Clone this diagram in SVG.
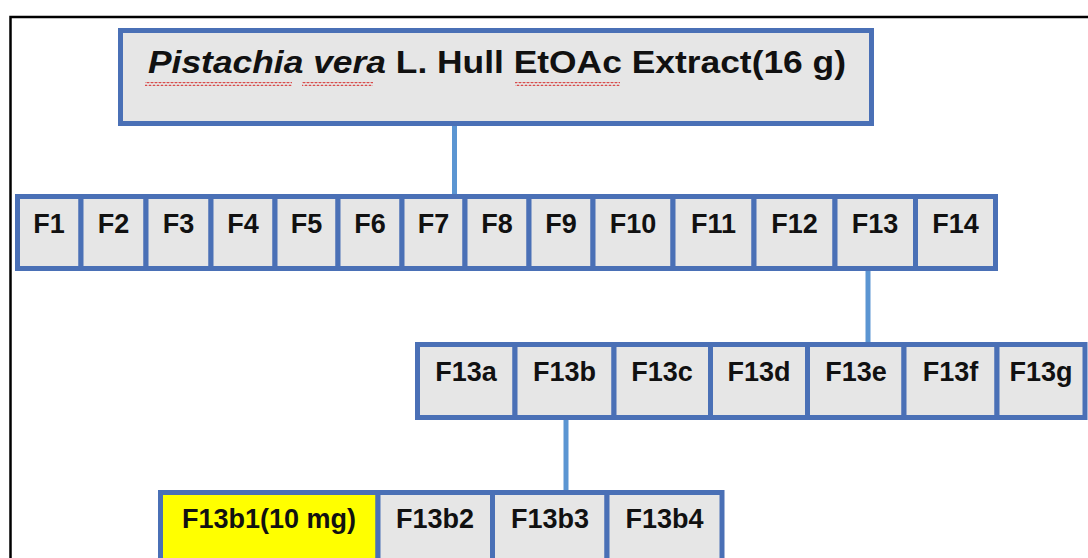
<svg xmlns="http://www.w3.org/2000/svg" width="1088" height="558" viewBox="0 0 1088 558">
<defs>
<style>
.box{fill:#e6e6e6;stroke:#4a70b6;stroke-width:5}
.hl{fill:#ffff00;stroke:#4a70b6;stroke-width:5}
.lbl{font-family:"Liberation Sans",Arial,sans-serif;font-weight:bold;font-size:27px;fill:#111;text-anchor:middle}
.title{font-family:"Liberation Sans",Arial,sans-serif;font-weight:bold;font-size:32px;fill:#111}
.con{stroke:#5b95d2;stroke-width:5;fill:none}
</style>
<pattern id="sq" width="4" height="4" patternUnits="userSpaceOnUse"><path d="M0,3 L2,1 L4,3" stroke="#d84848" stroke-width="1.2" fill="none"/></pattern>
</defs>
<rect width="1088" height="558" fill="#ffffff"/>
<path d="M10.5,570 V17 H1100" fill="none" stroke="#000" stroke-width="2.5"/>

<g id="connectors">
<line class="con" x1="454.5" y1="126" x2="454.5" y2="194"/>
<line class="con" x1="868" y1="271" x2="868" y2="342"/>
<line class="con" x1="566" y1="420" x2="566" y2="490"/>
</g>

<g id="root">
<rect class="box" x="120.5" y="30.5" width="751" height="93"/>
<text class="title" x="148" y="73" textLength="698" lengthAdjust="spacingAndGlyphs"><tspan font-style="italic">Pistachia vera</tspan> L. Hull EtOAc Extract(16 g)</text>
<rect x="145" y="82" width="147" height="4" fill="url(#sq)"/>
<rect x="302" y="82" width="71" height="4" fill="url(#sq)"/>
<rect x="515" y="82" width="105" height="4" fill="url(#sq)"/>
</g>

<g id="F1"><rect class="box" x="17.5" y="196.5" width="63.5" height="72"/><text class="lbl" x="49" y="233">F1</text></g>
<g id="F2"><rect class="box" x="81" y="196.5" width="65" height="72"/><text class="lbl" x="113.5" y="233">F2</text></g>
<g id="F3"><rect class="box" x="146" y="196.5" width="65" height="72"/><text class="lbl" x="178.5" y="233">F3</text></g>
<g id="F4"><rect class="box" x="211" y="196.5" width="64" height="72"/><text class="lbl" x="243" y="233">F4</text></g>
<g id="F5"><rect class="box" x="275" y="196.5" width="63" height="72"/><text class="lbl" x="306.5" y="233">F5</text></g>
<g id="F6"><rect class="box" x="338" y="196.5" width="64" height="72"/><text class="lbl" x="370" y="233">F6</text></g>
<g id="F7"><rect class="box" x="402" y="196.5" width="63" height="72"/><text class="lbl" x="433.5" y="233">F7</text></g>
<g id="F8"><rect class="box" x="465" y="196.5" width="64" height="72"/><text class="lbl" x="497" y="233">F8</text></g>
<g id="F9"><rect class="box" x="529" y="196.5" width="64" height="72"/><text class="lbl" x="561" y="233">F9</text></g>
<g id="F10"><rect class="box" x="593" y="196.5" width="80" height="72"/><text class="lbl" x="633" y="233">F10</text></g>
<g id="F11"><rect class="box" x="673" y="196.5" width="81" height="72"/><text class="lbl" x="713.5" y="233">F11</text></g>
<g id="F12"><rect class="box" x="754" y="196.5" width="81" height="72"/><text class="lbl" x="794.5" y="233">F12</text></g>
<g id="F13"><rect class="box" x="835" y="196.5" width="80.5" height="72"/><text class="lbl" x="875" y="233">F13</text></g>
<g id="F14"><rect class="box" x="915.5" y="196.5" width="80" height="72"/><text class="lbl" x="955.5" y="233">F14</text></g>

<g id="F13a"><rect class="box" x="417.5" y="344.5" width="97.5" height="73"/><text class="lbl" x="466" y="381">F13a</text></g>
<g id="F13b"><rect class="box" x="515" y="344.5" width="99" height="73"/><text class="lbl" x="564.5" y="381">F13b</text></g>
<g id="F13c"><rect class="box" x="614" y="344.5" width="96.5" height="73"/><text class="lbl" x="662" y="381">F13c</text></g>
<g id="F13d"><rect class="box" x="710.5" y="344.5" width="97" height="73"/><text class="lbl" x="759" y="381">F13d</text></g>
<g id="F13e"><rect class="box" x="807.5" y="344.5" width="96.5" height="73"/><text class="lbl" x="856" y="381">F13e</text></g>
<g id="F13f"><rect class="box" x="904" y="344.5" width="93" height="73"/><text class="lbl" x="950.5" y="381">F13f</text></g>
<g id="F13g"><rect class="box" x="997" y="344.5" width="88" height="73"/><text class="lbl" x="1041" y="381">F13g</text></g>

<g id="F13b1"><rect class="hl" x="160.5" y="492.5" width="217.5" height="80"/><text class="lbl" x="269" y="528">F13b1(10 mg)</text></g>
<g id="F13b2"><rect class="box" x="378" y="492.5" width="114.5" height="80"/><text class="lbl" x="435" y="528">F13b2</text></g>
<g id="F13b3"><rect class="box" x="492.5" y="492.5" width="114.5" height="80"/><text class="lbl" x="550" y="528">F13b3</text></g>
<g id="F13b4"><rect class="box" x="607" y="492.5" width="115" height="80"/><text class="lbl" x="664.5" y="528">F13b4</text></g>
</svg>
